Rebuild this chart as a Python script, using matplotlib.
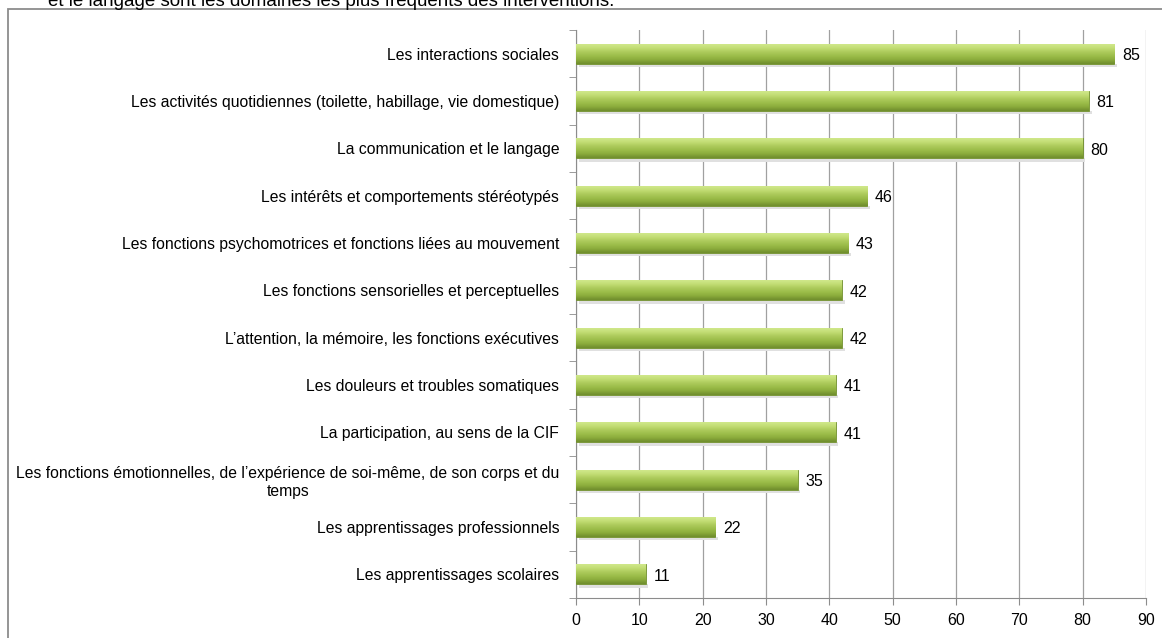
import numpy as np
import matplotlib.pyplot as plt
from matplotlib.patches import Rectangle
from matplotlib.colors import LinearSegmentedColormap

# Data (top to bottom)
categories = [
    "Les interactions sociales",
    "Les activités quotidiennes (toilette, habillage, vie domestique)",
    "La communication et le langage",
    "Les intérêts et comportements stéréotypés",
    "Les fonctions psychomotrices et fonctions liées au mouvement",
    "Les fonctions sensorielles et perceptuelles",
    "L’attention, la mémoire, les fonctions exécutives",
    "Les douleurs et troubles somatiques",
    "La participation, au sens de la CIF",
    "Les fonctions émotionnelles, de l’expérience de soi-même, de son corps et du\ntemps",
    "Les apprentissages professionnels",
    "Les apprentissages scolaires",
]
values = [85, 81, 80, 46, 43, 42, 42, 41, 41, 35, 22, 11]
xticks = list(range(0, 91, 10))
caption = "et le langage sont les domaines les plus fréquents des interventions."

font = "Liberation Sans"

fig = plt.figure(figsize=(11.62, 6.38), dpi=100)
fig.patch.set_facecolor("white")

# outer chart frame and the cut-off sentence above it
fig.patches.append(Rectangle((8 / 1162, -0.2), 1.2, 1.2 - 9 / 638,
                             transform=fig.transFigure, fill=False,
                             edgecolor="#8c8c8c", linewidth=1.3))
fig.text(48 / 1162, 1 - 6 / 638, caption, fontsize=13.5, family=font,
         va="baseline", ha="left", color="black")

ax = fig.add_axes([576 / 1162, 1 - 598 / 638, (1146 - 576) / 1162, (598 - 30) / 638])

n = len(categories)
y = np.arange(n)[::-1]
h = 0.42
bars = ax.barh(y, values, height=h, color="#a2c452", edgecolor="#718f2e",
               linewidth=0.6, zorder=3)

# gradient fill for the bevelled look
grad = np.linspace(0, 1, 20).reshape(-1, 1)
cmap = LinearSegmentedColormap.from_list(
    "g", ["#cfe78a", "#c1dc72", "#acca5b", "#9cbd4a", "#8bac3c", "#718f2e"])
for b in bars:
    x0, y0, w, hh = b.get_x(), b.get_y(), b.get_width(), b.get_height()
    im = ax.imshow(grad, extent=[x0, x0 + w, y0, y0 + hh], origin="upper",
                   cmap=cmap, aspect="auto", zorder=4, interpolation="bicubic")
    im.set_clip_path(b)
    # soft shadow under each bar
    ax.add_patch(Rectangle((x0 + 0.4, y0 - 0.07), w, 0.07, facecolor="#e0e0e0",
                           edgecolor="none", zorder=2))

for yy, v in zip(y, values):
    ax.text(v + 1.2, yy - 0.04, str(v), va="center", ha="left",
            fontsize=11.5, family=font, color="black", zorder=5)

ax.set_xlim(0, 90)
ax.set_ylim(-0.5, n - 0.5)
ax.set_xticks(xticks)
ax.set_xticklabels([str(t) for t in xticks], fontsize=11.5, family=font)
ax.set_yticks(y)
ax.set_yticklabels(categories, fontsize=11.3, family=font)
for lab in ax.get_yticklabels():
    lab.set_multialignment("center")
ax.set_yticks(np.arange(-0.5, n, 1.0), minor=True)
ax.tick_params(axis="y", which="major", length=0, pad=12)
ax.tick_params(axis="y", which="minor", length=5, color="#8c8c8c")
ax.tick_params(axis="x", length=5, color="#8c8c8c", pad=6)

ax.grid(axis="x", color="#a0a0a0", linewidth=0.9, zorder=0)
ax.set_axisbelow(True)
for s in ["top", "right"]:
    ax.spines[s].set_visible(False)
for s in ["left", "bottom"]:
    ax.spines[s].set_color("#8c8c8c")

fig.savefig("out.png", dpi=100)
